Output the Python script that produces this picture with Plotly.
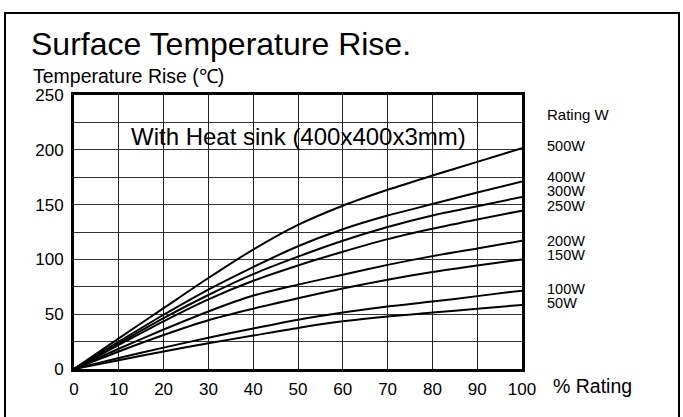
import plotly.graph_objects as go

rating_pct = [0, 10, 20, 30, 40, 50, 60, 70, 80, 90, 100]
series_names = ["500W", "400W", "300W", "250W", "200W", "150W", "100W", "50W"]
rise_500w = [0, 28, 55.5, 83, 109, 131.5, 149, 163.5, 176.5, 189, 201.5]
rise_400w = [0, 25, 49.5, 72.5, 93, 112, 127.5, 140, 150.5, 161, 171]
rise_300w = [0, 23.5, 46.5, 67.5, 86.5, 102.5, 117, 129.5, 140, 148.5, 157]
rise_250w = [0, 22, 43.5, 63.5, 80.5, 94.5, 107, 118.5, 128, 136.5, 144.5]
rise_200w = [0, 18.5, 36, 52.5, 67, 77, 86, 95, 103, 110, 117]
rise_150w = [0, 16, 31, 44.5, 55, 64.5, 73.5, 81.5, 88.5, 94.5, 100]
rise_100w = [0, 10, 19.5, 28.5, 37, 45, 51.5, 57, 61.5, 66.5, 71.5]
rise_50w = [0, 8, 16, 23.5, 30.5, 37.5, 43.5, 48, 51.5, 55, 58.5]
all_series = [rise_500w, rise_400w, rise_300w, rise_250w, rise_200w, rise_150w, rise_100w, rise_50w]
label_y_px = [146, 177, 191, 206, 241, 255, 289, 303]
x_ticks = [0, 10, 20, 30, 40, 50, 60, 70, 80, 90, 100]
y_ticks = [0, 50, 100, 150, 200, 250]

FONT = "Liberation Sans, Arial, sans-serif"
W, H = 683, 417
L, R, T, B = 74, 522, 95, 369

def px(x):
    return (x - L) / (R - L)

def py(y):
    return (B - y) / (B - T)

fig = go.Figure()
for name, ys in zip(series_names, all_series):
    fig.add_trace(go.Scatter(x=rating_pct, y=ys, mode="lines", name=name,
                             line=dict(color="black", width=2, shape="spline", smoothing=0.8),
                             showlegend=False, hoverinfo="skip"))

annotations = [
    dict(text="Surface Temperature Rise.", x=px(29), y=py(44), xanchor="left", yanchor="middle",
         font=dict(size=32, family=FONT, color="black")),
    dict(text="Temperature Rise (℃)", x=px(31), y=py(76), xanchor="left", yanchor="middle",
         font=dict(size=19.5, family=FONT, color="black")),
    dict(text="% Rating", x=px(551), y=py(386), xanchor="left", yanchor="middle",
         font=dict(size=19.5, family=FONT, color="black")),
    dict(text="Rating W", x=px(545), y=py(114), xanchor="left", yanchor="middle",
         font=dict(size=15, family=FONT, color="black")),
]
for name, ypx in zip(series_names, label_y_px):
    annotations.append(dict(text=name, x=px(545), y=py(ypx), xanchor="left", yanchor="middle",
                            font=dict(size=14.5, family=FONT, color="black")))
annotations.append(dict(text="With Heat sink (400x400x3mm)", x=50, y=212, xref="x", yref="y",
                        xanchor="center", yanchor="middle",
                        font=dict(size=24, family=FONT, color="black")))
for a in annotations:
    a.setdefault("xref", "paper")
    a.setdefault("yref", "paper")
    a["showarrow"] = False

fig.update_layout(
    width=W, height=H,
    template="none",
    margin=dict(l=L, r=W - R, t=T, b=H - B, pad=0, autoexpand=False),
    paper_bgcolor="white", plot_bgcolor="white",
    annotations=annotations,
    shapes=[dict(type="rect", xref="paper", yref="paper",
                 x0=px(5), x1=px(679), y0=py(430), y1=py(13),
                 line=dict(color="black", width=2), layer="below")],
)
fig.update_xaxes(range=[0, 100], tickvals=x_ticks, showgrid=True, gridcolor="#222", gridwidth=1,
                 showline=True, linecolor="black", linewidth=3, mirror=True, zeroline=False,
                 ticks="", ticklabelstandoff=3, automargin=False,
                 tickfont=dict(size=17, family=FONT, color="black"))
fig.update_yaxes(range=[0, 250], tickvals=y_ticks, showgrid=True, gridcolor="#333", gridwidth=1.4,
                 minor=dict(dtick=25, showgrid=True, gridcolor="#333", gridwidth=1.4),
                 showline=True, linecolor="black", linewidth=3, mirror=True, zeroline=False,
                 ticks="", ticklabelstandoff=4, automargin=False,
                 tickfont=dict(size=17, family=FONT, color="black"))

fig.write_html("out.html",
               config={"displayModeBar": False},
               post_script="document.body.style.margin='0';document.body.style.overflow='hidden';")
